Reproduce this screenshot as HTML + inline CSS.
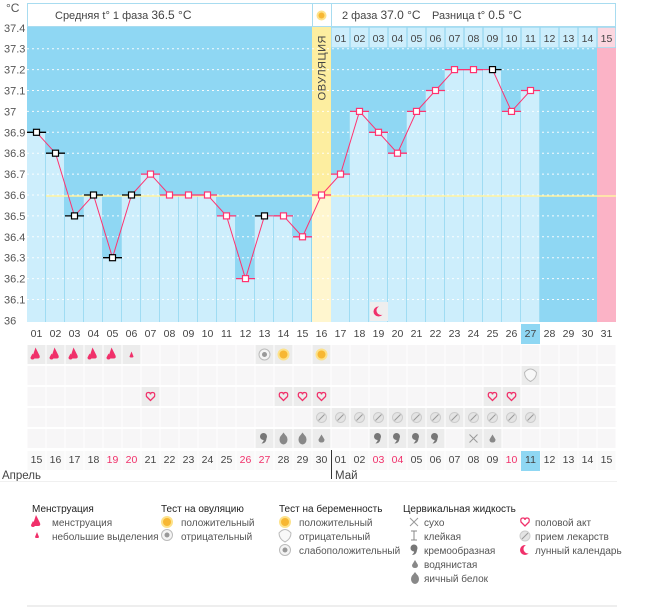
<!DOCTYPE html><html><head><meta charset="utf-8"><style>body{margin:0;background:#fff}svg{display:block;font-family:"Liberation Sans",sans-serif}</style></head><body>
<svg id="s" width="655" height="608" xmlns="http://www.w3.org/2000/svg"></svg>
<script>
const s=document.getElementById('s');let h='';
const X=i=>27+19*(i-1), C=i=>X(i)+9.5, Y=t=>132.3+(36.9-t)*209;
const T=[36.9,36.8,36.5,36.6,36.3,36.6,36.7,36.6,36.6,36.6,36.5,36.2,36.5,36.5,36.4,36.6,36.7,37.0,36.9,36.8,37.0,37.1,37.2,37.2,37.2,37.0,37.1];
const blk=[1,2,3,4,5,6,13,25];
h+=`<rect x="27" y="27" width="589" height="295" fill="#8fd7f3"/>`;
h+=`<rect x="${X(31)}" y="48" width="19" height="274" fill="#fbb3c6"/>`;
for(let i=1;i<=27;i++){if(i==16)continue;h+=`<rect x="${X(i)}" y="${Y(T[i-1])}" width="18" height="${322-Y(T[i-1])}" fill="#cdeefc"/>`;}
h+=`<rect x="${X(16)}" y="27" width="19" height="295" fill="#fdeea0"/><rect x="${X(16)}" y="${Y(36.6)}" width="19" height="${322-Y(36.6)}" fill="#fff6cf"/>`;
for(let v=1;v<14;v++){const y=Y(37.4-v*0.1);h+=`<line x1="27" x2="${X(31)}" y1="${y}" y2="${y}" stroke="#fff" stroke-dasharray="2,3" opacity=".9"/>`;}
for(let i=2;i<=28;i++){if(i==16||i==17)continue;h+=`<line x1="${X(i)-0.5}" x2="${X(i)-0.5}" y1="${Y(T[Math.min(i,27)-1])}" y2="322" stroke="#9fdcf3"/>`;}
h+=`<line x1="46" x2="616" y1="196" y2="196" stroke="#fff3a0" stroke-width="1.5"/>`;
h+=`<rect x="27.5" y="3.5" width="588" height="23" fill="#fff" stroke="#a8dcf0"/><line x1="312.5" x2="312.5" y1="3" y2="27" stroke="#a8dcf0"/><line x1="331.5" x2="331.5" y1="3" y2="27" stroke="#a8dcf0"/>`;
h+=`<text x="55" y="19" font-size="11" fill="#444">Средняя t° 1 фаза <tspan font-size="12">36.5 °C</tspan></text>`;
h+=`<text x="342" y="19" font-size="11" fill="#444">2 фаза <tspan font-size="12">37.0 °C</tspan></text><text x="432" y="19" font-size="11" fill="#444">Разница t° <tspan font-size="12">0.5 °C</tspan></text>`;
h+=`<circle cx="321.5" cy="15.5" r="5" fill="#fde28a"/><circle cx="321.5" cy="15.5" r="3" fill="#f7b733"/>`;
for(let i=17;i<=31;i++){h+=`<rect x="${X(i)+0.5}" y="27.5" width="18" height="20" fill="${i==31?'#fcd7e0':'#cdeefc'}" stroke="#a8dcf0" stroke-width=".5"/><text x="${C(i)}" y="42" font-size="10.5" fill="#444" text-anchor="middle">${String(i-16).padStart(2,'0')}</text>`;}
h+=`<text x="321.5" y="35" font-size="11" fill="#444" text-anchor="end" transform="rotate(-90 321.5 35)" dy="4" letter-spacing=".5">ОВУЛЯЦИЯ</text>`;
h+=`<text x="6" y="12" font-size="12" fill="#555">°C</text>`;
['37.4','37.3','37.2','37.1','37','36.9','36.8','36.7','36.6','36.5','36.4','36.3','36.2','36.1','36'].forEach((l,k)=>{h+=`<text x="4" y="${Y(37.4-k*0.1)+4}" font-size="11" fill="#555">${l}</text>`});
h+=`<rect x="${X(19)+1}" y="302" width="18" height="19" fill="#eee"/><circle cx="${C(19)}" cy="311.5" r="5" fill="#f0306a"/><circle cx="${C(19)+2.5}" cy="310.5" r="4.5" fill="#eee"/>`;
let p=T.map((t,k)=>`${C(k+1)},${Y(t)}`).join(' ');
for(let i=1;i<=27;i++){const y=Y(T[i-1]),b=blk.includes(i);let x1=X(i),x2=X(i)+19;if(i==13)x2=C(i);if(i==25)x1=C(i);if(i==25)x2=C(i)+9;h+=`<line x1="${x1}" x2="${x2}" y1="${y}" y2="${y}" stroke="${b?'#000':'#ff3370'}" stroke-width="1.3"/>`;}
h+=`<polyline points="${p}" fill="none" stroke="#ff3370" stroke-width="1"/>`;
for(let i=1;i<=27;i++){const y=Y(T[i-1]);h+=`<rect x="${C(i)-3}" y="${y-3}" width="6" height="6" fill="#fff" stroke="${blk.includes(i)?'#000':'#ff3370'}" stroke-width="1.2"/>`;}
h+=`<rect x="${X(27)}" y="324" width="19" height="20" fill="#8fd7f3"/>`;
for(let i=1;i<=31;i++)h+=`<text x="${C(i)}" y="337" font-size="10.5" fill="#444" text-anchor="middle">${String(i).padStart(2,'0')}</text>`;
const ic={};const set=(r,arr,t)=>arr.forEach(i=>ic[r+'_'+i]=t);
set(0,[1,2,3,4,5],'m');set(0,[6],'ms');set(0,[13],'og');set(0,[14,16],'oy');set(1,[27],'pn');
set(2,[7,14,15,16,25,26],'h');set(3,[16,17,18,19,20,21,22,23,24,25,26,27],'p');
set(4,[13,19,20,21,22],'c');set(4,[14,15],'e');set(4,[16,25],'w');set(4,[24],'x');
function icon(t,cx,cy){switch(t){
case 'm':return `<path d="M${cx-1},${cy-7} L${cx+3},${cy+1} Q${cx+4},${cy+4} ${cx+1},${cy+4} L${cx-3},${cy+4} Q${cx-5},${cy+3} ${cx-3},${cy-1} Z" fill="#f0306a"/><path d="M${cx-4},${cy-1} L${cx-2},${cy+3} Q${cx-2},${cy+5} ${cx-4},${cy+5} Q${cx-6},${cy+5} ${cx-6},${cy+3}Z" fill="#f0306a"/>`;
case 'ms':return `<path d="M${cx},${cy-3} L${cx+2},${cy+2} Q${cx+2},${cy+3} ${cx},${cy+3} Q${cx-2},${cy+3} ${cx-2},${cy+2}Z" fill="#f0306a"/>`;
case 'og':return `<circle cx="${cx}" cy="${cy}" r="5.5" fill="#f4f4f4" stroke="#bbb"/><circle cx="${cx}" cy="${cy}" r="2.5" fill="#999"/>`;
case 'oy':return `<circle cx="${cx}" cy="${cy}" r="6" fill="#fde28a"/><circle cx="${cx}" cy="${cy}" r="4" fill="#f7b733"/>`;
case 'pn':return `<path d="M${cx-6},${cy-3} Q${cx},${cy-10} ${cx+6},${cy-3} Q${cx+6},${cy+3} ${cx},${cy+6} Q${cx-6},${cy+3} ${cx-6},${cy-3}Z" fill="#f8f8f8" stroke="#bbb"/>`;
case 'h':return `<path d="M${cx},${cy+4} L${cx-4},${cy} Q${cx-5},${cy-4} ${cx-2},${cy-4} Q${cx},${cy-4} ${cx},${cy-2} Q${cx},${cy-4} ${cx+2},${cy-4} Q${cx+5},${cy-4} ${cx+4},${cy}Z" fill="none" stroke="#f0306a" stroke-width="1.3"/>`;
case 'p':return `<circle cx="${cx}" cy="${cy}" r="5" fill="#e4e4e4" stroke="#ccc"/><line x1="${cx-3}" y1="${cy+3}" x2="${cx+3}" y2="${cy-3}" stroke="#999"/>`;
case 'c':return `<circle cx="${cx-1}" cy="${cy-2}" r="3.5" fill="#777"/><path d="M${cx+2},${cy-1} Q${cx+2},${cy+5} ${cx-3},${cy+5} Q${cx},${cy+2} ${cx-1},${cy}Z" fill="#777"/>`;
case 'e':return `<ellipse cx="${cx}" cy="${cy+1}" rx="4" ry="5" fill="#888"/><path d="M${cx-3},${cy-2} L${cx},${cy-6} L${cx+3},${cy-2}Z" fill="#888"/>`;
case 'w':return `<path d="M${cx},${cy-4} L${cx+3},${cy+1} Q${cx+3},${cy+4} ${cx},${cy+4} Q${cx-3},${cy+4} ${cx-3},${cy+1}Z" fill="#888"/>`;
case 'x':return `<path d="M${cx-4},${cy-4}L${cx+4},${cy+4}M${cx+4},${cy-4}L${cx-4},${cy+4}" stroke="#999"/>`;}return '';}
for(let r=0;r<5;r++){const y=345+r*21;for(let i=1;i<=31;i++){const t=ic[r+'_'+i];h+=`<rect x="${X(i)+0.5}" y="${y}" width="18" height="19" fill="${t?'#ececec':'#f7f6f7'}"/>`;if(t)h+=icon(t,C(i),y+9.5);}}
h+=`<rect x="${X(27)}" y="451" width="19" height="20" fill="#8fd7f3"/>`;
const red=[5,6,12,13,19,20,26];
for(let i=1;i<=31;i++){const d=i<=16?i+14:i-16;h+=`<rect x="${X(i)+0.5}" y="451" width="18" height="19" fill="${i==27?'#8fd7f3':'#f9f9f9'}"/><text x="${C(i)}" y="463" font-size="10.5" fill="${red.includes(i)?'#f0306a':'#444'}" text-anchor="middle">${String(d).padStart(2,'0')}</text>`;}
h+=`<line x1="331.5" x2="331.5" y1="450" y2="479" stroke="#333"/><text x="2" y="479" font-size="11.5" fill="#444">Апрель</text><text x="335" y="479" font-size="11.5" fill="#444">Май</text>`;
h+=`<line x1="0" x2="617" y1="481.5" y2="481.5" stroke="#f0f0f0"/>`;
const hd=(x,y,t)=>`<text x="${x}" y="${y}" font-size="10" fill="#222">${t}</text>`, it=(x,y,t)=>`<text x="${x}" y="${y}" font-size="10" fill="#555">${t}</text>`;
h+=hd(32,512,'Менструация')+icon('m',37,522)+it(52,526,'менструация')+icon('ms',37,535)+it(52,540,'небольшие выделения');
h+=hd(161,512,'Тест на овуляцию')+icon('oy',167,522)+it(181,526,'положительный')+icon('og',167,535)+it(181,540,'отрицательный');
h+=hd(279,512,'Тест на беременность')+icon('oy',285,522)+it(299,526,'положительный')+icon('pn',285,536)+it(299,540,'отрицательный')+icon('og',285,550)+it(299,554,'слабоположительный');
h+=hd(403,512,'Цервикальная жидкость')+icon('x',414,522)+it(424,526,'сухо')+`<path d="M411,531h6M414,531v9M411,540h6" stroke="#888"/>`+it(424,540,'клейкая')+icon('c',415,550)+it(424,554,'кремообразная')+icon('w',415,564)+it(424,568,'водянистая')+icon('e',415,578)+it(424,582,'яичный белок');
h+=icon('h',525,522)+it(535,526,'половой акт')+icon('p',525,536)+it(535,540,'прием лекарств')+`<circle cx="525" cy="550" r="5" fill="#f0306a"/><circle cx="528" cy="549" r="4.5" fill="#fff"/>`+it(535,554,'лунный календарь');
h+=`<line x1="27" x2="617" y1="606" y2="606" stroke="#eee" stroke-width="2"/>`;
s.innerHTML=h;
</script></body></html>
